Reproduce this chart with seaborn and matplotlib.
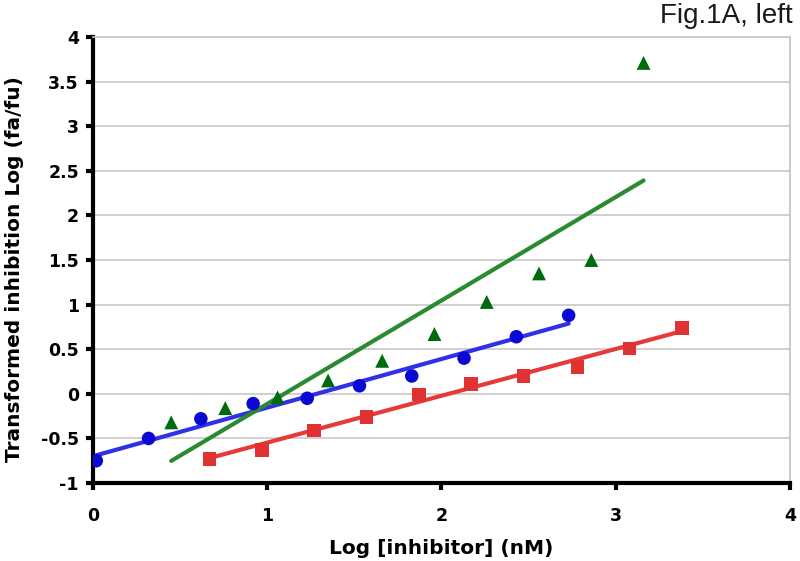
import numpy as np
import pandas as pd
import matplotlib
matplotlib.use("Agg")
import matplotlib.pyplot as plt
import seaborn as sns

# --- data ---
blue_x = [0.02, 0.32, 0.62, 0.92, 1.23, 1.53, 1.83, 2.13, 2.43, 2.73]
blue_y = [-0.75, -0.50, -0.28, -0.11, -0.05, 0.09, 0.20, 0.40, 0.64, 0.88]
red_x = [0.67, 0.97, 1.27, 1.57, 1.87, 2.17, 2.47, 2.78, 3.08, 3.38]
red_y = [-0.73, -0.63, -0.41, -0.26, -0.01, 0.11, 0.20, 0.30, 0.51, 0.74]
green_x = [0.45, 0.76, 1.06, 1.35, 1.66, 1.96, 2.26, 2.56, 2.86, 3.16]
green_y = [-0.32, -0.16, -0.04, 0.15, 0.37, 0.67, 1.03, 1.35, 1.50, 3.71]

# fitted trend lines (slope, intercept) as drawn in the figure
blue_fit = (0.545, -0.70)
red_fit = (0.525, -1.072)
green_fit = (1.16, -1.274)

x_ticks = [0, 1, 2, 3, 4]
y_ticks = [-1, -0.5, 0, 0.5, 1, 1.5, 2, 2.5, 3, 3.5, 4]
y_tick_labels = ["-1", "-0.5", "0", "0.5", "1", "1.5", "2", "2.5", "3", "3.5", "4"]

series = [
    ("blue", blue_x, blue_y, blue_fit, "o", "#0a0ad2", "#3030e8", 95),
    ("red", red_x, red_y, red_fit, "s", "#e03232", "#e63a3a", 95),
    ("green", green_x, green_y, green_fit, "^", "#006a10", "#2a8a30", 100),
]

sns.set_theme(style="white")
plt.rcParams["font.family"] = ["DejaVu Sans"]
plt.rcParams["text.color"] = "black"
plt.rcParams["xtick.color"] = "black"
plt.rcParams["ytick.color"] = "black"
plt.rcParams["axes.labelcolor"] = "black"

fig = plt.figure(figsize=(8, 5.61), dpi=100)
ax = fig.add_axes([0.116, 0.139, 0.8715, 0.795])

for name, xs, ys, fit, mk, mcol, lcol, s in series:
    slope, icpt = fit
    lx = np.array([min(xs), max(xs)])
    line_df = pd.DataFrame({"x": lx, "y": slope * lx + icpt})
    sns.lineplot(data=line_df, x="x", y="y", ax=ax, color=lcol, linewidth=3, zorder=2)
    pt_df = pd.DataFrame({"x": xs, "y": ys})
    sns.scatterplot(data=pt_df, x="x", y="y", ax=ax, marker=mk, color=mcol,
                    s=s, edgecolor="none", linewidth=0, zorder=3)

ax.set_xlim(0, 4)
ax.set_ylim(-1, 4)
ax.set_xticks(x_ticks)
ax.set_xticklabels([str(t) for t in x_ticks], fontweight="bold", fontsize=12.5, color="black")
ax.set_yticks(y_ticks)
ax.set_yticklabels(y_tick_labels, fontweight="bold", fontsize=12.5, color="black")
ax.yaxis.grid(True, color="#c8c8c8", linewidth=1.2)
ax.xaxis.grid(False)
ax.set_axisbelow(True)

for sp in ["left", "bottom"]:
    ax.spines[sp].set_color("black")
    ax.spines[sp].set_linewidth(3)
ax.spines["right"].set_color("#c0c0c0")
ax.spines["right"].set_linewidth(1.2)
ax.spines["top"].set_color("#c8c8c8")
ax.spines["top"].set_linewidth(1.2)

ax.tick_params(axis="both", which="major", direction="out", length=5, width=3,
               color="black", left=True, bottom=True)
ax.tick_params(axis="x", pad=12)
ax.tick_params(axis="y", pad=5)

ax.set_xlabel("Log [inhibitor] (nM)", fontweight="bold", fontsize=14.5, color="black")
ax.set_ylabel("Transformed inhibition Log (fa/fu)", fontweight="bold", fontsize=14.5, color="black")
ax.xaxis.label.set_va("center")
ax.yaxis.label.set_va("center")
ax.xaxis.set_label_coords(0.499, -0.146)
ax.yaxis.set_label_coords(-0.112, 0.48)

fig.text(0.991, 0.972, "Fig.1A, left", ha="right", va="center", fontsize=20,
         family=["Liberation Sans", "DejaVu Sans"], color="#1a1a1a")

fig.savefig("out.png", dpi=100)
